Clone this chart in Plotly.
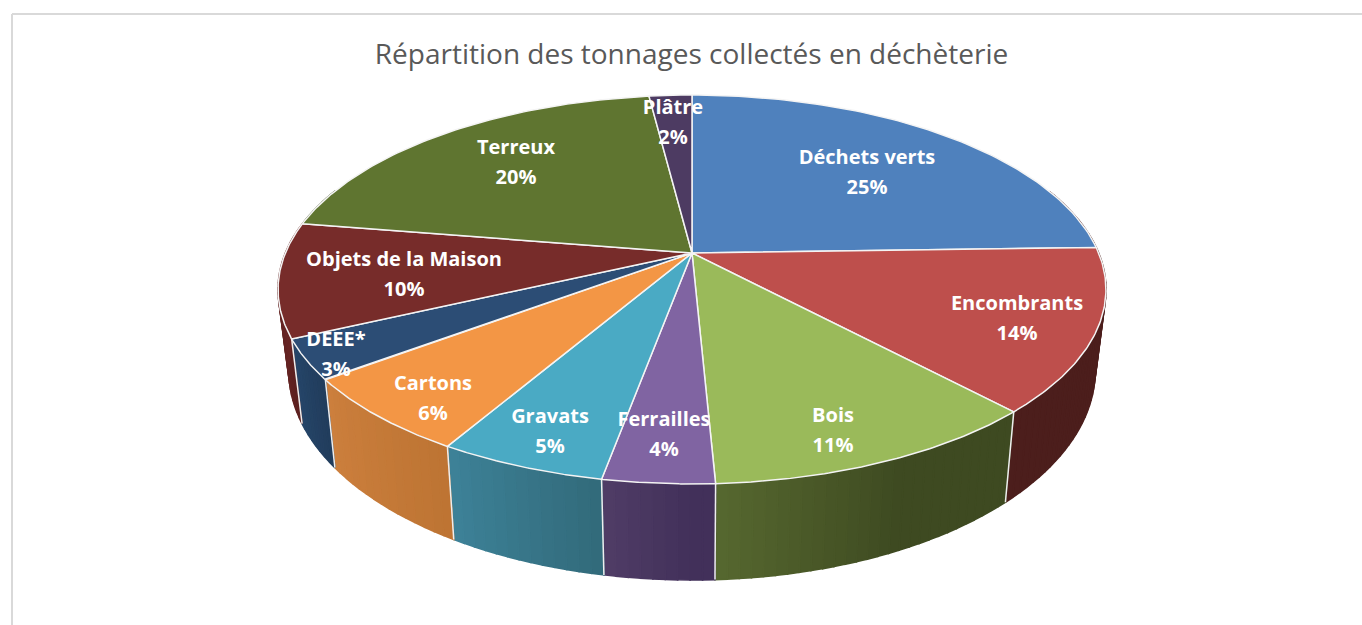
import numpy as np
import plotly.graph_objects as go

categories = ["Déchets verts", "Encombrants", "Bois", "Ferrailles", "Gravats",
              "Cartons", "DEEE*", "Objets de la Maison", "Terreux", "Plâtre"]
shares = [24.5, 13.5, 11.2, 3.65, 5.5, 6.35, 3.3, 9.5, 20.4, 2.0]
percent_labels = ["25%", "14%", "11%", "4%", "5%", "6%", "3%", "10%", "20%", "2%"]
top_colors = ["#4f81bd", "#be4f4c", "#9aba5a", "#8064a2", "#4aaac4",
              "#f39645", "#2c4d75", "#772c2a", "#5f7530", "#4d3b62"]
wall_left = ["#4c1e1c", "#4c1e1c", "#56682f", "#503d66", "#3d8298",
             "#cc7f3d", "#264669", "#702928", "#39461d", "#2e233b"]
wall_right = ["#4c1e1c", "#4c1e1c", "#3e4a21", "#42305a", "#326a7a",
              "#bd7433", "#213c5c", "#5c201f", "#39461d", "#2e233b"]
gradient_reach = [1, 1, 0.55, 0.8, 1, 1, 1, 1, 1, 1]
label_x = [867, 1017, 833, 664, 550, 433, 336, 404, 516, 673]
label_y = [174, 320, 432, 436, 433, 400, 356, 276, 164, 124]
title_text = "Répartition des tonnages collectés en déchèterie"

CX, CY, RX, RY, K = 692.0, 253.0, 406.6, 187.6, 0.1877
BOT_SX, BOT_SY, BOT_Y = 0.974, 1.078, 331.0


def rim(theta):
    u, v = np.sin(theta), np.cos(theta)
    w = 1 + K * v
    return CX + RX * u / w, CY - RY * v / w


def bottom(theta):
    x, y = rim(theta)
    return CX + BOT_SX * (x - CX), BOT_Y + BOT_SY * (y - CY)


def mix(a, b, t):
    ca = [int(a[i:i + 2], 16) for i in (1, 3, 5)]
    cb = [int(b[i:i + 2], 16) for i in (1, 3, 5)]
    return "#%02x%02x%02x" % tuple(round(p + (q - p) * t) for p, q in zip(ca, cb))


total = sum(shares)
edges = np.cumsum([0] + shares) / total * 2 * np.pi
fig = go.Figure()

# Side walls, as strips so that the shading changes gradually
for i in range(len(shares)):
    a0, a1 = edges[i], edges[i + 1]
    n = max(2, int((a1 - a0) / 0.025))
    grid = np.linspace(a0, a1, n + 1)
    for j in range(n):
        if np.cos((grid[j] + grid[j + 1]) / 2) > 0.35:
            continue
        th = np.linspace(grid[j], grid[j + 1], 4)
        xt, yt = rim(th)
        xb, yb = bottom(th[::-1])
        # angle grows towards screen left, so j = n-1 is the left end of the wall
        from_left = 1 - (j + .5) / n
        col = mix(wall_left[i], wall_right[i], min(1.0, from_left / gradient_reach[i]))
        fig.add_trace(go.Scatter(x=np.r_[xt, xb, xt[0]], y=np.r_[yt, yb, yt[0]], mode="lines",
                                 fill="toself", fillcolor=col, line=dict(color=col, width=1.6),
                                 hoverinfo="skip", showlegend=False))

# Edges of the walls
for i in range(len(shares)):
    a = edges[i]
    if np.cos(a) < 0.2:
        x0, y0 = rim(a)
        x1, y1 = bottom(a)
        fig.add_trace(go.Scatter(x=[x0, x1], y=[y0, y1], mode="lines", line=dict(color="#eeeeee", width=1.5),
                                 hoverinfo="skip", showlegend=False))

# Top face
for i in range(len(shares)):
    th = np.linspace(edges[i], edges[i + 1], 80)
    x, y = rim(th)
    fig.add_trace(go.Scatter(x=np.r_[CX, x, CX], y=np.r_[CY, y, CY], mode="lines", fill="toself",
                             fillcolor=top_colors[i], line=dict(color="#f4f4f4", width=1.5),
                             hoverinfo="skip", showlegend=False))

label_font = dict(family="Open Sans", size=20, color="white", weight="bold")
fig.add_trace(go.Scatter(x=label_x, y=[y - 15 for y in label_y], text=categories, mode="text",
                         textposition="middle center", textfont=label_font, hoverinfo="skip", showlegend=False))
fig.add_trace(go.Scatter(x=label_x, y=[y + 15 for y in label_y], text=percent_labels, mode="text",
                         textposition="middle center", textfont=label_font, hoverinfo="skip", showlegend=False))

# Chart frame
fig.add_shape(type="line", x0=12, x1=1362, y0=14, y1=14, line=dict(color="#d9d9d9", width=2), layer="below")
fig.add_shape(type="line", x0=12, x1=12, y0=14, y1=625, line=dict(color="#d9d9d9", width=2), layer="below")

fig.update_layout(
    width=1362, height=625, margin=dict(l=0, r=0, t=0, b=0),
    paper_bgcolor="white", plot_bgcolor="white",
    title=dict(text=title_text, x=691.5 / 1362, xanchor="center", y=1 - 54 / 625, yanchor="middle",
               font=dict(family="Open Sans", size=28, color="#595959")),
    xaxis=dict(range=[0, 1362], visible=False, fixedrange=True),
    yaxis=dict(range=[625, 0], visible=False, fixedrange=True),
)
fig.write_html("out.html", config=dict(displayModeBar=False),
               post_script="document.body.style.margin='0';document.body.style.overflow='hidden';")
